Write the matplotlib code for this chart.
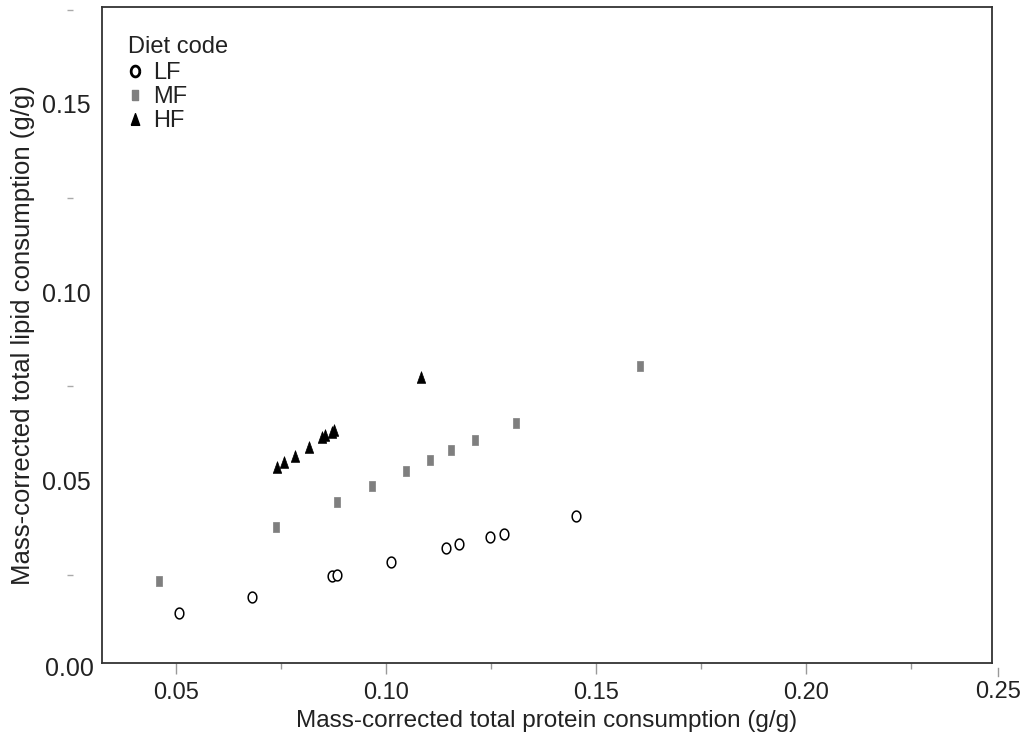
import numpy as np
import matplotlib
matplotlib.use("Agg")
import matplotlib.pyplot as plt
from matplotlib.lines import Line2D

plt.rcParams['font.family'] = ['Liberation Sans', 'DejaVu Sans']

# data (g/g)
lf_protein = [0.0508, 0.0680, 0.0872, 0.0884, 0.1011, 0.1143, 0.1174, 0.1248, 0.1282, 0.1452]
lf_lipid = [0.0148, 0.0192, 0.0247, 0.0249, 0.0285, 0.0320, 0.0331, 0.0350, 0.0359, 0.0407]

mf_protein = [0.0460, 0.0738, 0.0884, 0.0968, 0.1048, 0.1105, 0.1155, 0.1213, 0.1309, 0.1605]
mf_lipid = [0.0234, 0.0376, 0.0444, 0.0486, 0.0526, 0.0555, 0.0580, 0.0608, 0.0654, 0.0804]

hf_protein = [0.0740, 0.0758, 0.0784, 0.0817, 0.0848, 0.0855, 0.0871, 0.0877, 0.1083]
hf_lipid = [0.0535, 0.0550, 0.0565, 0.0590, 0.0616, 0.0621, 0.0629, 0.0634, 0.0776]

diet_codes = ["LF", "MF", "HF"]
x_ticks = [0.05, 0.10, 0.15, 0.20]
y_ticks = [0.05, 0.10, 0.15]
y_minor = [0.025, 0.075, 0.125, 0.175]
x_minor = [0.075, 0.125, 0.175, 0.225]

# slightly tall markers, like the original
t = np.linspace(0, 2*np.pi, 41)
ellipse = list(zip(0.8*np.cos(t), np.sin(t)))
rect = [(-0.36, -0.5), (0.36, -0.5), (0.36, 0.5), (-0.36, 0.5), (-0.36, -0.5)]
tri = [(-0.36, -0.5), (0.36, -0.5), (0.0, 0.5), (-0.36, -0.5)]

txt = "#222222"
fig = plt.figure(figsize=(10.33, 7.42), dpi=100)
ax = fig.add_axes([102/1033, 79/742, 890/1033, 656/742])

ax.plot(lf_protein, lf_lipid, linestyle="none", marker=ellipse, markersize=7.8,
        markerfacecolor="white", markeredgecolor="black", markeredgewidth=1.1)
ax.plot(mf_protein, mf_lipid, linestyle="none", marker=rect, markersize=6.8,
        markerfacecolor="#7f7f7f", markeredgecolor="#7f7f7f", markeredgewidth=0.5)
ax.plot(hf_protein, hf_lipid, linestyle="none", marker=tri, markersize=8.4,
        markerfacecolor="black", markeredgecolor="black", markeredgewidth=0.5)

ax.set_xlim(0.0324, 0.2443)
ax.set_ylim(0.0016, 0.1757)

for s in ax.spines.values():
    s.set_color("#333333")
    s.set_linewidth(1.3)

ax.set_xticks(x_ticks)
ax.set_xticklabels([f"{v:.2f}" for v in x_ticks])
ax.set_xticks(x_minor, minor=True)
ax.tick_params(axis="x", which="major", length=8, width=1, color="#999999",
               labelsize=17, labelcolor=txt, pad=6)
ax.tick_params(axis="x", which="minor", length=4, width=1, color="#999999")

ax.set_yticks(y_ticks)
ax.set_yticklabels([f"{v:.2f}" for v in y_ticks])
ax.tick_params(axis="y", which="major", length=0, labelsize=18, labelcolor=txt, pad=8)

# detached little dashes on the y side
sec = ax.secondary_yaxis(-0.036)
sec.spines["left"].set_visible(False)
sec.set_yticks([])
sec.set_yticks([v for v in y_minor if v < 0.1757], minor=True)
sec.tick_params(axis="y", which="minor", length=4, width=1, color="#aaaaaa",
                direction="inout", labelleft=False)

# edge labels that fall just outside the frame
ax.text(-8/890, 0.0, "0.00", transform=ax.get_yaxis_transform(), ha="right",
        va="center", fontsize=18, color=txt, clip_on=False)
ax.text(1.0067, -29/656, "0.25", transform=ax.transAxes, ha="center", va="center",
        fontsize=17, color=txt, clip_on=False)
ax.plot([1.0067, 1.0067], [-5/656, -13/656], transform=ax.transAxes, color="#999999",
        lw=1, clip_on=False)

ax.set_xlabel("Mass-corrected total protein consumption (g/g)", fontsize=17.5,
              color=txt, labelpad=4)
ax.set_ylabel("Mass-corrected total lipid consumption (g/g)", fontsize=18.5,
              color=txt, labelpad=5)

handles = [
    Line2D([], [], linestyle="none", marker=ellipse, markersize=7.8, markerfacecolor="white",
           markeredgecolor="black", markeredgewidth=2),
    Line2D([], [], linestyle="none", marker=rect, markersize=6.8, markerfacecolor="#7f7f7f",
           markeredgecolor="#7f7f7f"),
    Line2D([], [], linestyle="none", marker=tri, markersize=8.4, markerfacecolor="black",
           markeredgecolor="black"),
]
leg = ax.legend(handles, diet_codes, title="Diet code", loc="upper left",
                bbox_to_anchor=(26/890, 1 - 29/656), borderaxespad=0, borderpad=0,
                frameon=False, fontsize=17, title_fontsize=17, labelspacing=0.08,
                handlelength=0.6, handletextpad=0.45, alignment="left")
leg._legend_box.sep = 3
for tx in leg.get_texts():
    tx.set_color(txt)
leg.get_title().set_color(txt)

fig.savefig("out.png", dpi=100)
